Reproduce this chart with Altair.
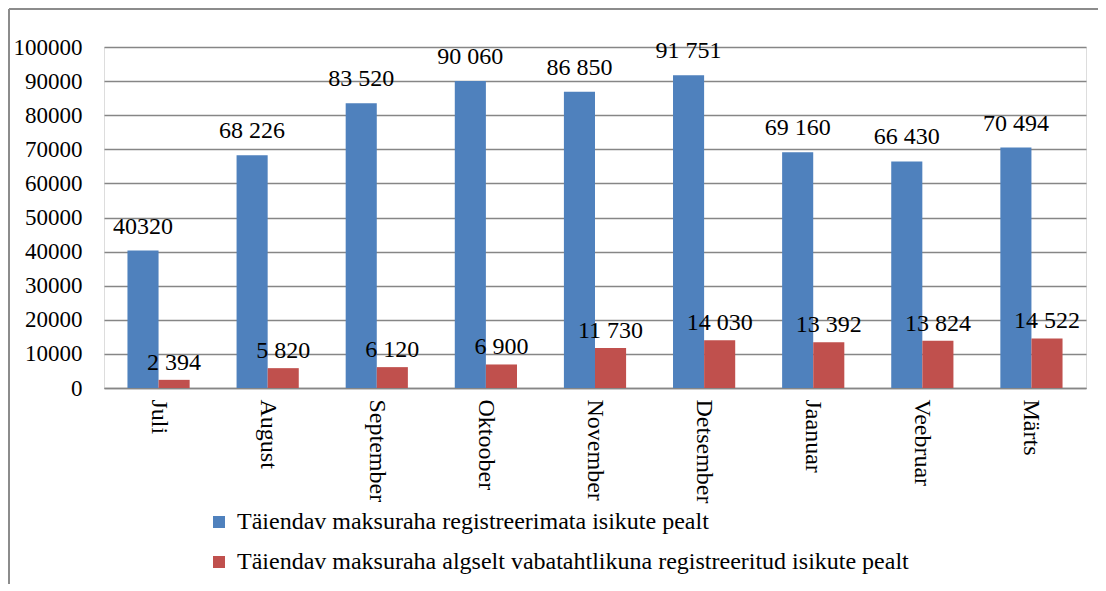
import altair as alt
import pandas as pd

months = ["Juli", "August", "September", "Oktoober", "November", "Detsember", "Jaanuar", "Veebruar", "Märts"]
series_names = [
    "Täiendav maksuraha registreerimata isikute pealt",
    "Täiendav maksuraha algselt vabatahtlikuna registreeritud isikute pealt",
]
unregistered = [40320, 68226, 83520, 90060, 86850, 91751, 69160, 66430, 70494]
unregistered_labels = ["40320", "68 226", "83 520", "90 060", "86 850", "91 751", "69 160", "66 430", "70 494"]
voluntary = [2394, 5820, 6120, 6900, 11730, 14030, 13392, 13824, 14522]
voluntary_labels = ["2 394", "5 820", "6 120", "6 900", "11 730", "14 030", "13 392", "13 824", "14 522"]
y_ticks = list(range(0, 100001, 10000))

rows = []
for i, m in enumerate(months):
    rows.append({"month": m, "series": series_names[0], "value": unregistered[i], "label": unregistered_labels[i]})
    rows.append({"month": m, "series": series_names[1], "value": voluntary[i], "label": voluntary_labels[i]})
df = pd.DataFrame(rows)

FONT = "Liberation Serif, Times New Roman, serif"
FS = 24

x_enc = alt.X("month:N", sort=months, title=None,
              scale=alt.Scale(paddingInner=0.43, paddingOuter=0.215),
              axis=alt.Axis(labelAngle=90, labelFontSize=FS, labelFont=FONT, labelColor="black",
                            labelPadding=11, ticks=False, domainColor="#868686", domainWidth=1.5,
                            labelAlign="left", labelBaseline="middle"))
xo_enc = alt.XOffset("series:N", sort=series_names)
y_enc = alt.Y("value:Q", title=None,
              scale=alt.Scale(domain=[0, 100000], nice=False, zero=True),
              axis=alt.Axis(values=y_ticks, format="d", labelFontSize=23, labelFont=FONT,
                            labelColor="black", labelPadding=22, ticks=False, domain=False,
                            labelOverlap=False,
                            gridColor="#868686", gridWidth=1.5))
color_enc = alt.Color("series:N", sort=series_names,
                      scale=alt.Scale(domain=series_names, range=["#4F81BD", "#C0504D"]),
                      legend=alt.Legend(title=None, orient="none", legendX=103, legendY=463,
                                        direction="vertical", symbolType="square", symbolSize=144,
                                        symbolStrokeWidth=0, labelFontSize=FS, labelFont=FONT,
                                        labelColor="black", labelLimit=0, rowPadding=16,
                                        labelOffset=6, padding=0))

base = alt.Chart(df).encode(x=x_enc, xOffset=xo_enc, y=y_enc)

bars = base.mark_bar().encode(color=color_enc)

labels_blue = base.transform_filter(alt.datum.series == series_names[0]).mark_text(
    baseline="bottom", dy=-12, fontSize=FS, font=FONT, color="black"
).encode(text="label:N")

labels_red = base.transform_filter(alt.datum.series == series_names[1]).mark_text(
    baseline="bottom", dy=-5, fontSize=FS, font=FONT, color="black"
).encode(text="label:N")

border_top = alt.Chart(df).mark_rule(color="#8c8c8c", strokeWidth=1.5).encode(
    x=alt.value(-95), x2=alt.value(1010), y=alt.value(-38)
)
border_left = alt.Chart(df).mark_rule(color="#8c8c8c", strokeWidth=1.5).encode(
    x=alt.value(-95), y=alt.value(-38), y2=alt.value(560)
)

chart = alt.layer(bars, labels_blue, labels_red, border_top, border_left).properties(
    width=982, height=341,
    autosize=alt.AutoSizeParams(type="none"),
    padding={"left": 96, "top": 39, "right": 12, "bottom": 196},
).configure_view(stroke=None).configure(background="white", font=FONT).configure_axis(
    labelFont=FONT
).configure_legend(labelFont=FONT).configure_text(font=FONT)

chart.save("out.html", embed_options={"renderer": "svg", "actions": False})
